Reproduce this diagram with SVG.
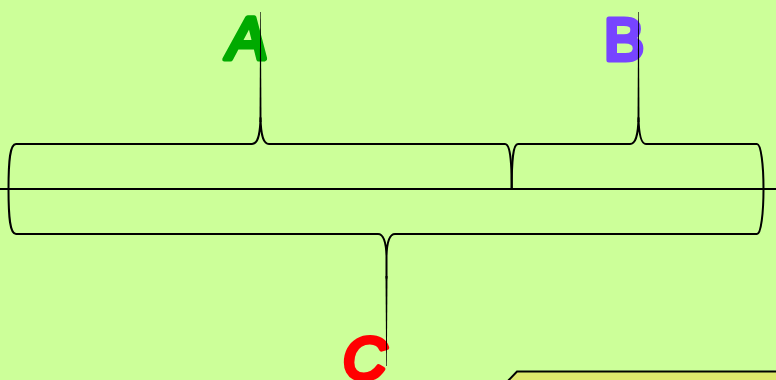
<svg xmlns="http://www.w3.org/2000/svg" width="776" height="380" viewBox="0 0 776 380">
<style>
.br{fill:none;stroke:#000;stroke-width:2;stroke-linecap:round;stroke-linejoin:round}
.tip{fill:#000}
.lbl{font-family:"Liberation Sans","Arial",sans-serif;font-weight:normal;font-size:60px;stroke-width:5;stroke-linejoin:round;stroke-linecap:round}
</style>
<rect x="0" y="0" width="776" height="380" fill="#ccff99"/>
<g id="box">
<path d="M517,371.5 L780,371.5 L780,384 L505,384 Z" fill="#dde86c" stroke="#000" stroke-width="2"/>
</g>
<g id="labels">
<text id="A" class="lbl" x="225" y="59" fill="#00aa00" stroke="#00aa00" transform="skewX(-8) translate(8,0)">A</text>
<text id="B" class="lbl" x="604" y="60" fill="#7744ff" stroke="#7744ff">B</text>
<text id="C" class="lbl" x="343" y="379" fill="#ff0000" stroke="#ff0000" font-style="italic">C</text>
</g>
<g id="connectors">
<line x1="0" y1="189" x2="776" y2="189" stroke="#000" stroke-width="2"/>
<path class="br" d="M8.5,189 C8.5,160 10,144 16,144 L252,144 C257,144 260,138 260.5,118 C261,138 264,144 269,144 L505,144 C510,144 511.7,160 511.7,189"/>
<path class="br" d="M511.7,189 C511.7,160 513,144 518,144 L630,144 C635,144 638,138 638.5,118 C639,138 642,144 646,144 L757,144 C761,144 763.5,165 763.5,189"/>
<path class="br" d="M8.5,189 C8.5,218 10,234 16,234 L378,234 C383,234 386,240 386.5,256 L386.5,278 M386.5,256 C387,240 390,234 395,234 L757,234 C761,234 763.5,213 763.5,189"/>
<polygon class="tip" points="259.5,122 261.5,122 260.8,12 260.2,12"/>
<polygon class="tip" points="637.5,122 639.5,122 638.8,12 638.2,12"/>
<polygon class="tip" points="385.5,276 387.5,276 386.8,366 386.2,366"/>
</g>
</svg>
